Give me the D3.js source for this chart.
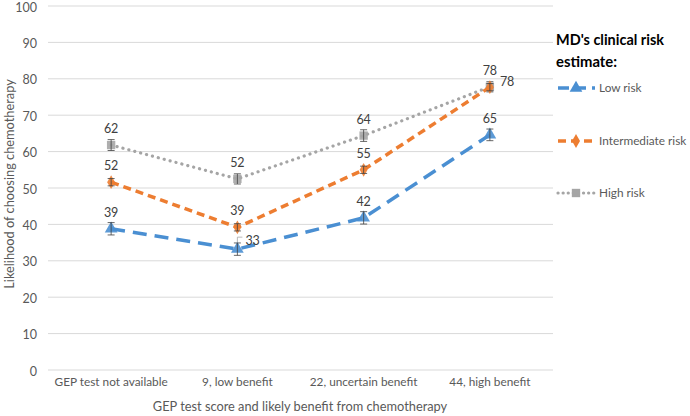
<!DOCTYPE html>
<html><head><meta charset="utf-8">
<script src="https://cdn.jsdelivr.net/npm/d3@7"></script>
<style>body{margin:0;background:#fff}text{font-family:Lato,"Open Sans",sans-serif}</style>
</head><body><svg id="c" width="690" height="416"></svg>
<script>
const categories = ["GEP test not available","9, low benefit","22, uncertain benefit","44, high benefit"];
const yTicks = [0,10,20,30,40,50,60,70,80,90,100];
const seriesNames = ["Low risk","Intermediate risk","High risk"];
const lowRisk = [38.8, 33.2, 41.8, 64.6];
const intermediateRisk = [51.6, 39.2, 55.0, 77.7];
const highRisk = [61.8, 52.5, 64.4, 77.8];
const lowErr = [1.7, 1.7, 1.7, 1.6];
const intErr = [1.0, 1.0, 1.0, 1.0];
const highErr = [1.5, 1.4, 1.6, 1.4];
const lowLabels = ["39","33","42","65"];
const intLabels = ["52","39","55","78"];
const highLabels = ["62","52","64","78"];

const svg = d3.select("#c");
const x = d3.scaleBand().domain(categories).range([48,553]);
const y = d3.scaleLinear().domain([0,100]).range([370,6]);

// gridlines
svg.append("g").selectAll("line").data(yTicks).join("line")
  .attr("x1",48).attr("x2",553).attr("y1",d=>y(d)).attr("y2",d=>y(d))
  .attr("stroke","#d9d9d9").attr("stroke-width",1);

const yAxis = d3.axisLeft(y).tickValues(yTicks).tickSize(0).tickPadding(11);
const gy = svg.append("g").attr("transform","translate(48,0)").call(yAxis);
gy.select(".domain").remove();
gy.selectAll("text").attr("font-size",12.5).attr("fill","#595959").attr("dy","0.4em")
  .style("font-family","Lato,'Open Sans',sans-serif");

const xAxis = d3.axisBottom(x).tickSize(0).tickPadding(8);
const gx = svg.append("g").attr("transform","translate(0,370)").call(xAxis);
gx.select(".domain").remove();
gx.selectAll("text").attr("font-size",11.8).attr("fill","#595959").style("font-family","Lato,'Open Sans',sans-serif");

svg.append("text").attr("x",300).attr("y",411).attr("text-anchor","middle")
  .attr("font-size",12.8).attr("fill","#595959").text("GEP test score and likely benefit from chemotherapy");
svg.append("text").attr("transform","translate(14,184) rotate(-90)").attr("text-anchor","middle")
  .attr("font-size",12.8).attr("fill","#595959").text("Likelihood of choosing chemotherapy");

const colors = ["#4a8fd2","#ed7d31","#a5a5a5"];
const dashes = ["14,8","8,5","0.1,6"];
const widths = [3.5,3.5,3.2];
const caps = ["butt","butt","round"];
const symbols = [d3.symbolTriangle, d3.symbolDiamond, d3.symbolSquare];
const symSizes = [70, 55, 70];
const data = [lowRisk, intermediateRisk, highRisk];
const errs = [lowErr, intErr, highErr];
const labels = [lowLabels, intLabels, highLabels];

const cx = c => x(c) + x.bandwidth()/2;
const line = d3.line().x((d,i)=>cx(categories[i])).y(d=>y(d));

[2,1,0].forEach(s=>{
  const g = svg.append("g");
  g.append("path").datum(data[s]).attr("d",line).attr("fill","none")
    .attr("stroke",colors[s]).attr("stroke-width",widths[s])
    .attr("stroke-dasharray",dashes[s]).attr("stroke-linecap",caps[s]);
  g.selectAll("path.m").data(data[s]).join("path").attr("class","m")
    .attr("transform",(d,i)=>`translate(${cx(categories[i])},${y(d)})`)
    .attr("d",d3.symbol().type(symbols[s]).size(symSizes[s]))
    .attr("fill",colors[s]).attr("opacity",0.9);
  data[s].forEach((v,i)=>{
    const px = cx(categories[i]), e = errs[s][i];
    const eg = g.append("g").attr("stroke","#404040").attr("stroke-width",0.8);
    eg.append("line").attr("x1",px).attr("x2",px).attr("y1",y(v+e)).attr("y2",y(v-e));
    eg.append("line").attr("x1",px-3.5).attr("x2",px+3.5).attr("y1",y(v+e)).attr("y2",y(v+e));
    eg.append("line").attr("x1",px-3.5).attr("x2",px+3.5).attr("y1",y(v-e)).attr("y2",y(v-e));
  });
});

const lab = svg.append("g").attr("font-size",12.5).attr("fill","#404040").attr("text-anchor","middle");
[0,1,2].forEach(s=>{
  data[s].forEach((v,i)=>{
    let px = cx(categories[i]), py = y(v) - 12, anchor = "middle";
    if (s===0 && i===1) { px = cx(categories[i]) + 8; py = y(v) - 4; anchor = "start"; }
    if (s===1 && i===3) { px = cx(categories[i]) + 10; py = y(v) - 1; anchor = "start"; }
    lab.append("text").attr("x",px).attr("y",py).attr("text-anchor",anchor).text(labels[s][i]);
  });
});
{
  const px = cx(categories[1]), py = y(lowRisk[1]);
  svg.append("path").attr("d",`M${px},${py-7}V${py-12}H${px+5}`).attr("fill","none")
    .attr("stroke","#a6a6a6").attr("stroke-width",0.8);
}

// legend
const lg = svg.append("g");
lg.append("text").attr("x",556).attr("y",45).attr("font-size",16).attr("font-weight","bold").attr("fill","#000")
  .attr("textLength",108).attr("lengthAdjust","spacingAndGlyphs").text("MD's clinical risk");
lg.append("text").attr("x",556).attr("y",67).attr("font-size",16).attr("font-weight","bold").attr("fill","#000")
  .attr("textLength",61).attr("lengthAdjust","spacingAndGlyphs").text("estimate:");
const legY = [88,141,193];
[0,1,2].forEach(s=>{
  lg.append("line").attr("x1",558).attr("x2",595).attr("y1",legY[s]).attr("y2",legY[s])
    .attr("stroke",colors[s]).attr("stroke-width",widths[s]).attr("stroke-dasharray",s===0?"11,6":s===1?"8,5":"0.1,5")
    .attr("stroke-linecap",caps[s]);
  lg.append("path").attr("transform",`translate(576,${legY[s]})`)
    .attr("d",d3.symbol().type(symbols[s]).size(symSizes[s])).attr("fill",colors[s]);
  lg.append("text").attr("x",599).attr("y",legY[s]+4).attr("font-size",11.8).attr("fill","#595959").text(seriesNames[s]);
});
</script></body></html>
